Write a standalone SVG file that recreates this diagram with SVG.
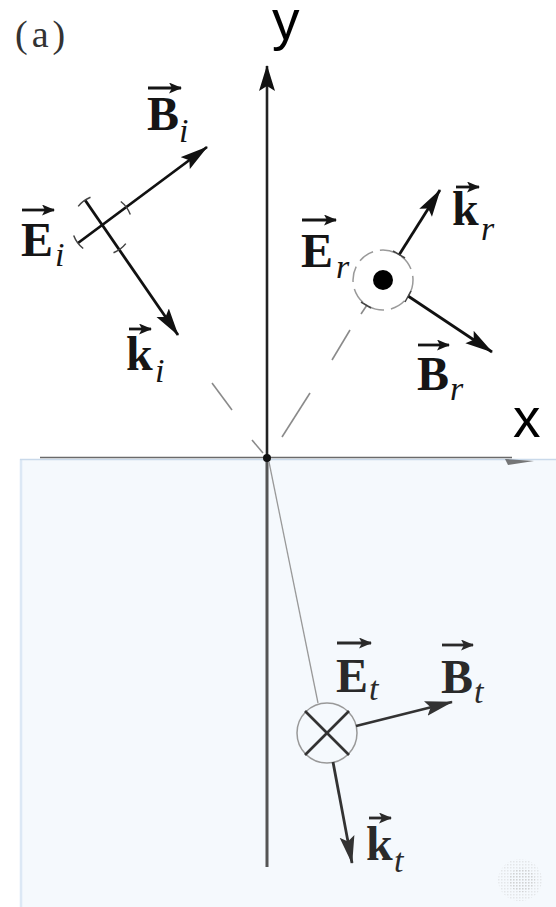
<svg xmlns="http://www.w3.org/2000/svg" width="556" height="907" viewBox="0 0 556 907">
<style>
.lab{font-family:"Liberation Serif","Times New Roman",serif;font-weight:bold;font-size:48px;fill:#151515}
.sub{font-family:"Liberation Serif","Times New Roman",serif;font-style:italic;font-size:34px;fill:#151515}
.low .lab,.low .sub{fill:#2a2a2a}
.ax{font-family:"Liberation Sans",Arial,sans-serif;font-size:55px;fill:#000}
.vec{stroke:#151515;stroke-width:2.8;fill:none;marker-end:url(#vh)}
.low .vec{stroke:#2a2a2a;marker-end:url(#vh2)}
.arr{stroke:#111;stroke-width:2.8;fill:none;marker-end:url(#ah)}
.low .arr{stroke:#333;marker-end:url(#ah2)}
.tick{stroke:#444;stroke-width:1.5;fill:none}
.ray{stroke:#8a8a8a;stroke-width:1.6;fill:none}
</style>
<defs>
<marker id="ah" viewBox="0 0 28 16" refX="27" refY="8" markerWidth="28" markerHeight="16" markerUnits="userSpaceOnUse" orient="auto">
<path d="M0,0.5 L28,8 L0,15.5 L5,8 z" fill="#111"/>
</marker>
<marker id="ah2" viewBox="0 0 28 16" refX="27" refY="8" markerWidth="28" markerHeight="16" markerUnits="userSpaceOnUse" orient="auto">
<path d="M0,0.5 L28,8 L0,15.5 L5,8 z" fill="#333"/>
</marker>
<marker id="vh" viewBox="0 0 13 11" refX="12" refY="5.5" markerWidth="13" markerHeight="11" markerUnits="userSpaceOnUse" orient="auto">
<path d="M0,0 L13,5.5 L0,11 L3,5.5 z" fill="#151515"/>
</marker>
<marker id="vh2" viewBox="0 0 13 11" refX="12" refY="5.5" markerWidth="13" markerHeight="11" markerUnits="userSpaceOnUse" orient="auto">
<path d="M0,0 L13,5.5 L0,11 L3,5.5 z" fill="#2a2a2a"/>
</marker>
<marker id="yh" viewBox="0 0 16 26" refX="8" refY="1" markerWidth="16" markerHeight="26" markerUnits="userSpaceOnUse" orient="0">
<path d="M8,0 L16,26 L8,21 L0,26 z" fill="#111"/>
</marker>
<pattern id="dith" width="3" height="3" patternUnits="userSpaceOnUse">
<rect x="0" y="0" width="1.5" height="1.5" fill="#c4c4c4"/>
</pattern>
</defs>

<rect width="556" height="907" fill="#fff"/>

<g id="medium">
<rect x="20" y="459" width="536" height="448" fill="#f5f9fd"/>
<line x1="21" y1="459" x2="21" y2="907" stroke="#dce8f5" stroke-width="2.5"/>
<line x1="20" y1="459.5" x2="556" y2="459.5" stroke="#c9d9ea" stroke-width="1.5"/>
<ellipse cx="520" cy="880" rx="22" ry="21" fill="url(#dith)" opacity="0.35"/>
<ellipse cx="522" cy="880" rx="13" ry="12" fill="url(#dith)" opacity="0.6"/>
</g>

<g id="axes">
<line x1="267" y1="459" x2="267" y2="66" stroke="#222" stroke-width="2.6" marker-end="url(#yh)"/>
<line x1="267" y1="459" x2="267" y2="867" stroke="#555" stroke-width="3"/>
<line x1="40" y1="457.5" x2="512" y2="457.5" stroke="#6a6a6a" stroke-width="1.6"/>
<path d="M505,459 L534,461 L508,465 z" fill="#555" opacity="0.8"/>
<circle cx="267" cy="458" r="4" fill="#111"/>
<text class="ax" x="272" y="39">y</text>
<text class="ax" x="513" y="437">x</text>
<text x="15" y="47" font-family="Liberation Serif,'Times New Roman',serif" font-size="38" letter-spacing="4" fill="#333">(a)</text>
</g>

<g id="connectors">
<line class="ray" x1="263" y1="453" x2="252" y2="440"/>
<line class="ray" x1="232" y1="410" x2="212" y2="383"/>
<line class="ray" x1="367" y1="305" x2="361" y2="314"/>
<line class="ray" x1="350" y1="330" x2="332" y2="360"/>
<line class="ray" x1="310" y1="393" x2="282" y2="437"/>
<line x1="269" y1="462" x2="318" y2="703" stroke="#999" stroke-width="1.3"/>
</g>

<g id="incident">
<line class="arr" x1="85" y1="200" x2="178" y2="335"/>
<line class="arr" x1="78" y1="243" x2="207" y2="147"/>
<path class="tick" d="M125.8,243.6 A30,30 0 0 1 113.5,252.7"/>
<path class="tick" d="M78.2,206.4 A30,30 0 0 1 90.5,197.3"/>
<path class="tick" d="M120.8,201.5 A30,30 0 0 1 130.3,214.5"/>
<path class="tick" d="M83.2,248.5 A30,30 0 0 1 73.7,235.5"/>
<line class="vec" x1="148" y1="88" x2="181" y2="88"/>
<text class="lab" x="147" y="130">B</text>
<text class="sub" x="179" y="142">i</text>
<line class="vec" x1="22" y1="210" x2="54" y2="210"/>
<text class="lab" x="21" y="256">E</text>
<text class="sub" x="55" y="266">i</text>
<line class="vec" x1="129" y1="329" x2="151" y2="329"/>
<text class="lab" x="126" y="370">k</text>
<text class="sub" x="155" y="382">i</text>
</g>

<g id="reflected">
<circle cx="383" cy="280" r="30" fill="none" stroke="#9a9a9a" stroke-width="1.5" stroke-dasharray="16 7"/>
<circle cx="383" cy="280" r="10" fill="#000"/>
<line class="arr" x1="399" y1="255" x2="440" y2="190"/>
<line class="arr" x1="408" y1="296" x2="492" y2="352"/>
<line class="tick" x1="393" y1="251" x2="405" y2="258"/>
<line class="tick" x1="405" y1="302" x2="411" y2="291"/>
<line class="tick" x1="361" y1="302" x2="371" y2="308"/>
<line class="vec" x1="302" y1="220" x2="336" y2="220"/>
<text class="lab" x="301" y="267">E</text>
<text class="sub" x="336" y="278">r</text>
<line class="vec" x1="456" y1="187" x2="479" y2="187"/>
<text class="lab" x="452" y="225">k</text>
<text class="sub" x="481" y="240">r</text>
<line class="vec" x1="418" y1="345" x2="449" y2="345"/>
<text class="lab" x="417" y="390">B</text>
<text class="sub" x="450" y="400">r</text>
</g>

<g id="transmitted" class="low">
<circle cx="327" cy="733" r="30" fill="none" stroke="#999" stroke-width="1.5"/>
<line x1="305" y1="711" x2="349" y2="755" stroke="#333" stroke-width="2.6"/>
<line x1="305" y1="755" x2="349" y2="711" stroke="#333" stroke-width="2.6"/>
<line class="arr" x1="356" y1="726" x2="452" y2="702"/>
<line class="arr" x1="333" y1="762" x2="352" y2="863"/>
<line class="vec" x1="337" y1="643" x2="371" y2="643"/>
<text class="lab" x="336" y="692">E</text>
<text class="sub" x="369" y="700">t</text>
<line class="vec" x1="442" y1="645" x2="473" y2="645"/>
<text class="lab" x="441" y="693">B</text>
<text class="sub" x="474" y="703">t</text>
<line class="vec" x1="369" y1="818" x2="391" y2="818"/>
<text class="lab" x="366" y="860">k</text>
<text class="sub" x="394" y="872">t</text>
</g>
</svg>
